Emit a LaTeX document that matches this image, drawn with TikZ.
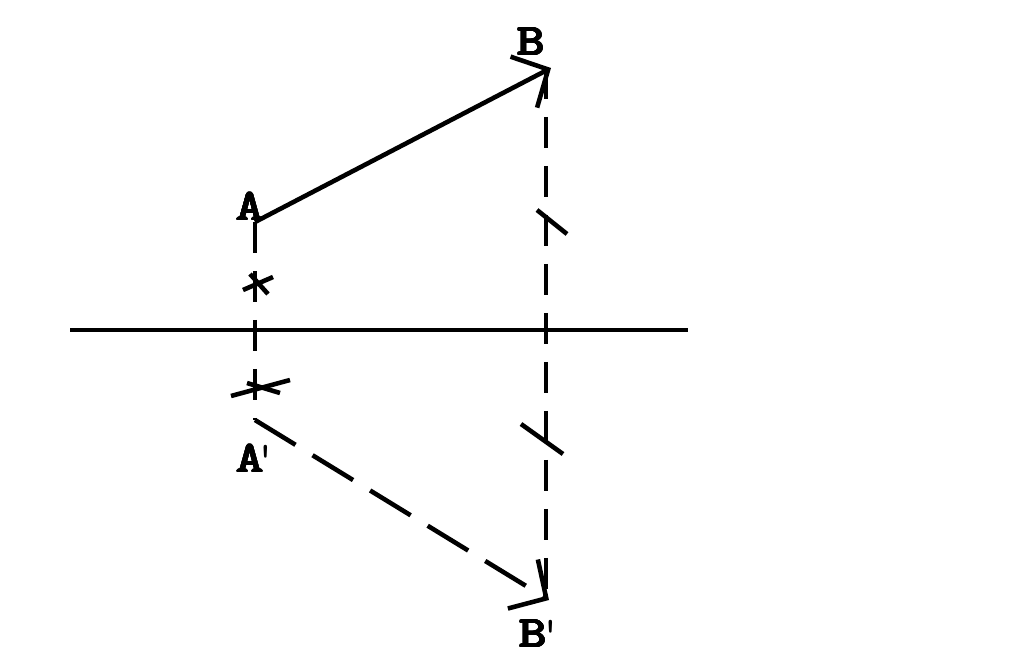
\documentclass[tikz,border=0pt]{standalone}
\usepackage{fontspec}
\usepackage{graphicx}
\usepackage[copies]{contour}
\contourlength{0.3pt}
\contournumber{16}
\usetikzlibrary{arrows.meta}
\newcommand{\labtxt}[1]{\scalebox{1.2}[1]{\contour{black}{#1}}}
\begin{document}
\begin{tikzpicture}[x=0.02cm,y=-0.02cm,
  ln/.style={line width=2.6pt},
  dsh/.style={ln,dash pattern=on 0.62cm off 0.36cm},
  tip/.style={-{Straight Barb[length=0.55cm,width=1.15cm,line width=2.6pt]}},
  lab/.style={font=\fontsize{25}{28}\selectfont\ttfamily,inner sep=0pt}]
\useasboundingbox (0,0) rectangle (1024,670);
% points
\coordinate (A) at (255,222);
\coordinate (B) at (551,68);
\coordinate (A1) at (255,420);
\coordinate (B1) at (549,600);
\coordinate (BV) at (546,68);
\coordinate (BV1) at (546,600);
\coordinate (L) at (70,330);
\coordinate (R) at (688,330);
% labels
\node[lab] (la) at (250,207) {\labtxt{A}};
\node[lab] (lb) at (531,42) {\labtxt{B}};
\node[lab] (la1) at (257,459) {\labtxt{A}\kern-0.2em\textquotesingle};
\node[lab] (lb1) at (541,634) {\labtxt{B}\kern-0.15em\textquotesingle};
% horizontal axis
\draw[ln] (L) -- (R);
% vector AB
\draw[ln,tip] (A) -- (B);
% dashed projections
\draw[dsh] (A) -- (A1);
\draw[dsh] (BV) -- (BV1);
% reflected vector A'B'
\draw[dsh,dash pattern=on 0.95cm off 0.4cm,tip] (A1) -- (B1);
% tick marks on A line
\coordinate (t1a) at (243,290); \coordinate (t1b) at (273,277);
\coordinate (t2a) at (250,274); \coordinate (t2b) at (268,294);
\draw[ln] (t1a) -- (t1b);
\draw[ln] (t2a) -- (t2b);
\coordinate (t3a) at (231,396); \coordinate (t3b) at (290,380);
\coordinate (t4a) at (247,383); \coordinate (t4b) at (280,393);
\draw[ln] (t3a) -- (t3b);
\draw[ln] (t4a) -- (t4b);
% tick marks on B line
\coordinate (t5a) at (537,210); \coordinate (t5b) at (567,234);
\draw[ln] (t5a) -- (t5b);
\coordinate (t6a) at (521,424); \coordinate (t6b) at (563,454);
\draw[ln] (t6a) -- (t6b);
\end{tikzpicture}
\end{document}
